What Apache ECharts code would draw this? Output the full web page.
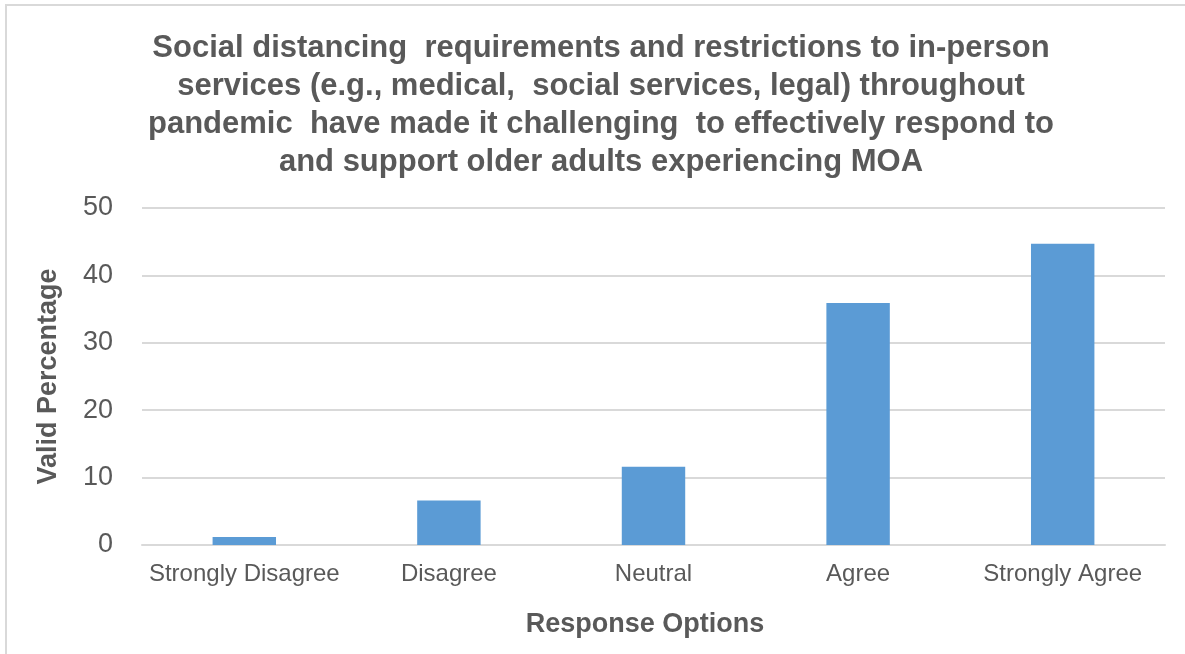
<!DOCTYPE html>
<html>
<head>
<meta charset="utf-8">
<script src="https://cdn.jsdelivr.net/npm/echarts@6/dist/echarts.min.js"></script>
<style>
html,body{margin:0;padding:0;background:#fff;}
#chart{width:1185px;height:654px;}
</style>
</head>
<body>
<div id="chart"></div>
<script>
const categories = ['Strongly Disagree', 'Disagree', 'Neutral', 'Agree', 'Strongly Agree'];
const values = [1.2, 6.6, 11.6, 35.9, 44.7];
const yTicks = { min: 0, max: 50, interval: 10 };
const titleText = 'Social distancing  requirements and restrictions to in-person\nservices (e.g., medical,  social services, legal) throughout\npandemic  have made it challenging  to effectively respond to\nand support older adults experiencing MOA';

const FONT = '"Liberation Sans", Arial, sans-serif';
const chart = echarts.init(document.getElementById('chart'), null, { renderer: 'canvas' });
chart.setOption({
  backgroundColor: '#ffffff',
  animation: false,
  graphic: [{
    type: 'rect',
    shape: { x: 6, y: 5, width: 1300, height: 800 },
    style: { fill: 'none', stroke: '#d9d9d9', lineWidth: 2 },
    silent: true
  }, {
    type: 'text',
    x: 601,
    y: 29,
    silent: true,
    style: {
      text: titleText,
      align: 'center',
      verticalAlign: 'top',
      fontFamily: FONT,
      fontSize: 31,
      fontWeight: 'bold',
      fill: '#595959',
      lineHeight: 38
    }
  }],
  grid: { left: 142, right: 20, top: 208, bottom: 109, containLabel: false },
  xAxis: {
    type: 'category',
    data: categories,
    axisTick: { show: false },
    axisLine: { show: true, lineStyle: { color: '#d9d9d9', width: 2 } },
    axisLabel: { interval: 0, fontFamily: FONT, fontSize: 24, color: '#595959', margin: 17 },
    name: 'Response Options',
    nameLocation: 'middle',
    nameGap: 66,
    nameTextStyle: { fontFamily: FONT, fontSize: 27, fontWeight: 'bold', color: '#595959', padding: [0, 17, 0, 0] }
  },
  yAxis: {
    type: 'value',
    min: yTicks.min,
    max: yTicks.max,
    interval: yTicks.interval,
    axisLine: { show: false },
    axisTick: { show: false },
    splitLine: { show: true, lineStyle: { color: '#d9d9d9', width: 2 } },
    axisLabel: { fontFamily: FONT, fontSize: 27, color: '#595959', margin: 29 },
    name: 'Valid Percentage',
    nameLocation: 'middle',
    nameGap: 80,
    nameTextStyle: { fontFamily: FONT, fontSize: 27, fontWeight: 'bold', color: '#595959' }
  },
  series: [{
    type: 'bar',
    data: values,
    barWidth: '31%',
    itemStyle: { color: '#5b9bd5' }
  }]
});
</script>
</body>
</html>
